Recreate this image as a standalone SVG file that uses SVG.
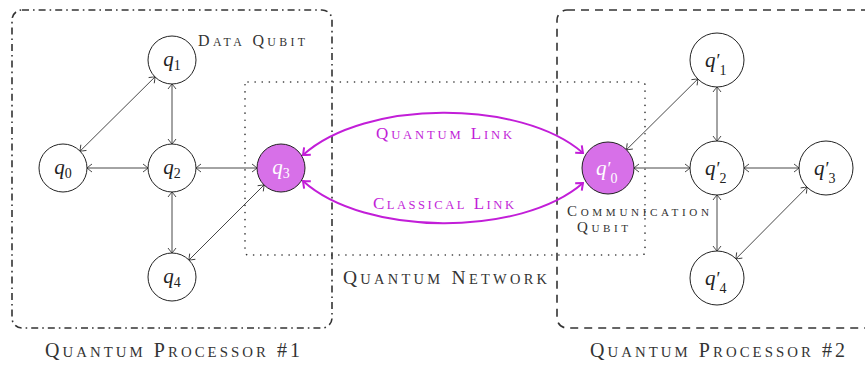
<svg xmlns="http://www.w3.org/2000/svg" width="865" height="365" viewBox="0 0 865 365">
<defs>
<style>
.box{fill:none;stroke:#333;stroke-width:1.6}
.node circle{fill:#fff;stroke:#222;stroke-width:1}
.node.comm circle{fill:#D770E8}
.q{font-family:"Liberation Serif",serif;font-style:italic;font-size:21px;fill:#222}
.comm .q{fill:#fff}
.sub{font-size:14px;font-style:normal}
.pr{font-size:18px;font-style:normal}
.sc{font-family:"Liberation Serif",serif;fill:#333}
.lc{text-transform:uppercase;font-size:0.74em}
.mag{fill:#C21ED8}
.edge{stroke:#333;stroke-width:0.9;fill:none;marker-start:url(#tip);marker-end:url(#tip)}
.link{stroke:#C21ED8;stroke-width:2;fill:none;marker-start:url(#mtip);marker-end:url(#mtip)}
</style>
<marker id="tip" viewBox="-6 -5 7 10" refX="0" refY="0" markerWidth="7" markerHeight="10" markerUnits="userSpaceOnUse" orient="auto-start-reverse">
<path d="M-5,-4 Q-1,-1 0,0 Q-1,1 -5,4" fill="none" stroke="#333" stroke-width="0.9"/>
</marker>
<marker id="mtip" viewBox="-8 -6 9 12" refX="0" refY="0" markerWidth="9" markerHeight="12" markerUnits="userSpaceOnUse" orient="auto-start-reverse">
<path d="M-6,-5 Q-1.5,-1.2 0,0 Q-1.5,1.2 -6,5" fill="none" stroke="#C21ED8" stroke-width="2"/>
</marker>
</defs>

<g id="boxes">
<rect id="proc1" class="box" x="12" y="10" width="320" height="318" rx="10" stroke-dasharray="7 4 1.6 4"/>
<rect id="proc2" class="box" x="557" y="10" width="330" height="318" rx="10" stroke-dasharray="8 6"/>
<rect id="network" class="box" x="245" y="82" width="400" height="173" rx="3" stroke-dasharray="0.1 7" stroke-linecap="round" stroke-width="2"/>
</g>

<g id="connectors">
<line class="edge" x1="80.1" y1="151.1" x2="155" y2="76.9"/>
<line class="edge" x1="87" y1="168" x2="148" y2="168"/>
<line class="edge" x1="172" y1="84" x2="172" y2="144"/>
<line class="edge" x1="196" y1="168" x2="257" y2="168"/>
<line class="edge" x1="172" y1="192" x2="172" y2="253"/>
<line class="edge" x1="189" y1="260" x2="264" y2="185"/>
<line class="edge" x1="626.5" y1="149.7" x2="697.8" y2="79"/>
<line class="edge" x1="634" y1="168" x2="690" y2="168"/>
<line class="edge" x1="717" y1="87" x2="717" y2="141"/>
<line class="edge" x1="744" y1="168" x2="799" y2="168"/>
<line class="edge" x1="717" y1="195" x2="717" y2="251"/>
<line class="edge" x1="736" y1="258.8" x2="807" y2="187.2"/>
<path class="link" d="M303,155 C365,99 521,99 583,153"/>
<path class="link" d="M303,181 C365,237 521,237 583,183"/>
</g>

<g id="q0" class="node"><circle cx="63" cy="168" r="24"/><text class="q" x="63" y="174" text-anchor="middle">q<tspan class="sub" dy="4">0</tspan></text></g>
<g id="q1" class="node"><circle cx="172" cy="60" r="24"/><text class="q" x="172" y="66" text-anchor="middle">q<tspan class="sub" dy="4">1</tspan></text></g>
<g id="q2" class="node"><circle cx="172" cy="168" r="24"/><text class="q" x="172" y="174" text-anchor="middle">q<tspan class="sub" dy="4">2</tspan></text></g>
<g id="q3" class="node comm"><circle cx="281" cy="168" r="24"/><text class="q" x="281" y="174" text-anchor="middle">q<tspan class="sub" dy="4">3</tspan></text></g>
<g id="q4" class="node"><circle cx="172" cy="277" r="24"/><text class="q" x="172" y="283" text-anchor="middle">q<tspan class="sub" dy="4">4</tspan></text></g>

<g id="q0p" class="node comm"><circle cx="608" cy="168" r="26"/><text class="q" x="596" y="175">q<tspan class="pr" dx="1">′</tspan><tspan class="sub" dx="-1" dy="8">0</tspan></text></g>
<g id="q1p" class="node"><circle cx="717" cy="60" r="27"/><text class="q" x="705" y="67">q<tspan class="pr" dx="1">′</tspan><tspan class="sub" dx="-1" dy="8">1</tspan></text></g>
<g id="q2p" class="node"><circle cx="717" cy="168" r="27"/><text class="q" x="705" y="175">q<tspan class="pr" dx="1">′</tspan><tspan class="sub" dx="-1" dy="8">2</tspan></text></g>
<g id="q3p" class="node"><circle cx="826" cy="168" r="27"/><text class="q" x="814" y="175">q<tspan class="pr" dx="1">′</tspan><tspan class="sub" dx="-1" dy="8">3</tspan></text></g>
<g id="q4p" class="node"><circle cx="717" cy="278" r="27"/><text class="q" x="705" y="285">q<tspan class="pr" dx="1">′</tspan><tspan class="sub" dx="-1" dy="8">4</tspan></text></g>

<g id="labels">
<text class="sc" x="198" y="46" font-size="16" textLength="107" lengthAdjust="spacing">D<tspan class="lc">ata</tspan> Q<tspan class="lc">ubit</tspan></text>
<text class="sc" x="45" y="357" font-size="20" textLength="255" lengthAdjust="spacing">Q<tspan class="lc">uantum</tspan> P<tspan class="lc">rocessor</tspan> #1</text>
<text class="sc" x="590" y="357" font-size="20" textLength="255" lengthAdjust="spacing">Q<tspan class="lc">uantum</tspan> P<tspan class="lc">rocessor</tspan> #2</text>
<text class="sc" x="343" y="284" font-size="19.5" textLength="204" lengthAdjust="spacing">Q<tspan class="lc">uantum</tspan> N<tspan class="lc">etwork</tspan></text>
<text class="sc mag" x="376" y="139" font-size="17" textLength="136" lengthAdjust="spacing">Q<tspan class="lc">uantum</tspan> L<tspan class="lc">ink</tspan></text>
<text class="sc mag" x="373" y="209" font-size="17" textLength="141" lengthAdjust="spacing">C<tspan class="lc">lassical</tspan> L<tspan class="lc">ink</tspan></text>
<text class="sc" x="567" y="216" font-size="15" textLength="142" lengthAdjust="spacing">C<tspan class="lc">ommunication</tspan></text>
<text class="sc" x="577" y="232" font-size="15" textLength="51" lengthAdjust="spacing">Q<tspan class="lc">ubit</tspan></text>
</g>
</svg>
